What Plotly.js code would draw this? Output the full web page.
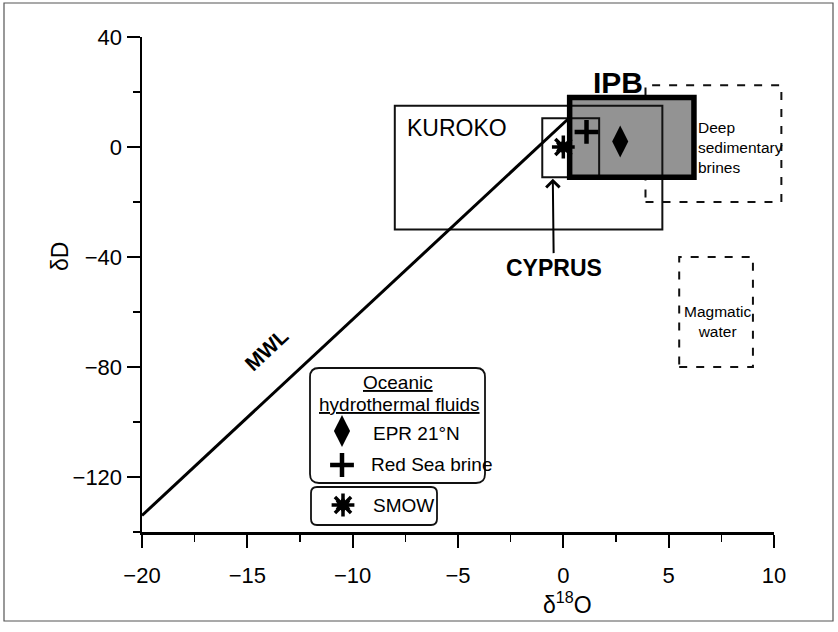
<!DOCTYPE html>
<html>
<head>
<meta charset="utf-8">
<script src="https://cdn.plot.ly/plotly-3.0.1.min.js"></script>
<style>html,body{margin:0;padding:0;background:#fff;}#chart{width:838px;height:632px;}</style>
</head>
<body>
<div id="chart"></div>
<script>
// ---------------- DATA ----------------
const xTickVals = [-20, -15, -10, -5, 0, 5, 10];
const yTickVals = [-120, -80, -40, 0, 40];
const xRange = [-20, 10];
const yRange = [-140, 40];

// Meteoric water line
const mwlX = [-20, 0.2];
const mwlY = [-134, 10];

// Field boxes (d18O, dD)
const boxNames = ['KUROKO', 'CYPRUS', 'IPB', 'Deep sedimentary brines', 'Magmatic water'];
const boxX0 = [-8, -1, 0.3, 3.9, 5.5];
const boxX1 = [4.7, 1.7, 6.2, 10.35, 9];
const boxY0 = [-30, -11, -11, -20, -80];
const boxY1 = [15, 10.5, 18, 22.5, -40];

// Point samples
const ptNames = ['EPR 21°N', 'Red Sea brine', 'SMOW'];
const ptX = [2.7, 1.1, 0];
const ptY = [2, 5.5, 0];

// ---------------- LAYOUT HELPERS ----------------
const W = 838, H = 632;
const M = {l: 142, r: 64, t: 37, b: 100};
const PW = W - M.l - M.r, PH = H - M.t - M.b;
const pX = px => (px - M.l) / PW;          // pixel -> paper
const pY = py => (H - M.b - py) / PH;
const dX = v => (v - xRange[0]) / (xRange[1] - xRange[0]); // data -> paper
const dY = v => (v - yRange[0]) / (yRange[1] - yRange[0]);
const FONT = 'Liberation Sans, Arial, Helvetica, sans-serif';

function roundRect(x0, y0, x1, y1, r) { // pixel coords -> paper path
  const rx = r / PW, ry = r / PH;
  const a = pX(x0), b = pX(x1), top = pY(y0), bot = pY(y1);
  return `M${a + rx},${top} L${b - rx},${top} Q${b},${top} ${b},${top - ry} ` +
         `L${b},${bot + ry} Q${b},${bot} ${b - rx},${bot} L${a + rx},${bot} ` +
         `Q${a},${bot} ${a},${bot + ry} L${a},${top - ry} Q${a},${top} ${a + rx},${top} Z`;
}

// marker styles per point (SMOW drawn as asterisk + small hexagram core)
const markerStyles = [
  [{symbol: 'diamond-tall', size: 23, line: 0}],
  [{symbol: 'cross-thin-open', size: 17, line: 4.5}],
  [{symbol: 'asterisk-open', size: 19, line: 3.5}, {symbol: 'hexagram', size: 13, line: 0}]
];

// ---------------- SHAPES ----------------
const shapes = [];
const ipb = 2, kur = 0, cyp = 1, deep = 3, mag = 4;
shapes.push({type: 'rect', layer: 'below', xref: 'x', yref: 'y',
  x0: boxX0[ipb], x1: boxX1[ipb], y0: boxY0[ipb], y1: boxY1[ipb],
  fillcolor: '#939393', line: {width: 0}});
[kur, cyp].forEach(i => shapes.push({type: 'rect', layer: 'below', xref: 'x', yref: 'y',
  x0: boxX0[i], x1: boxX1[i], y0: boxY0[i], y1: boxY1[i],
  fillcolor: 'rgba(0,0,0,0)', line: {color: '#111', width: 2}}));
[deep, mag].forEach(i => shapes.push({type: 'rect', layer: 'below', xref: 'paper', yref: 'paper',
  x0: dX(boxX0[i]), x1: dX(boxX1[i]), y0: dY(boxY0[i]), y1: dY(boxY1[i]),
  fillcolor: 'rgba(0,0,0,0)', line: {color: '#111', width: 2, dash: '8px,9px'}}));
shapes.push({type: 'rect', layer: 'below', xref: 'x', yref: 'y',
  x0: boxX0[ipb], x1: boxX1[ipb], y0: boxY0[ipb], y1: boxY1[ipb],
  fillcolor: 'rgba(0,0,0,0)', line: {color: '#000', width: 5.5}});
shapes.push({type: 'path', layer: 'below', xref: 'paper', yref: 'paper',
  path: roundRect(310, 368, 485, 483, 9), line: {color: '#111', width: 1.8}});
shapes.push({type: 'path', layer: 'below', xref: 'paper', yref: 'paper',
  path: roundRect(311, 487, 437, 525, 6), line: {color: '#111', width: 1.8}});
shapes.push({type: 'rect', layer: 'below', xref: 'paper', yref: 'paper',
  x0: pX(4), x1: pX(833), y0: pY(3), y1: pY(621),
  line: {color: '#555', width: 1.2}});

// ---------------- TRACES ----------------
const traces = [];
traces.push({x: mwlX, y: mwlY, mode: 'lines', line: {color: '#000', width: 3},
  hoverinfo: 'skip', showlegend: false, cliponaxis: false});
const legIconPx = [[342, 431], [342, 465], [343, 505]];
for (let i = 0; i < ptNames.length; i++) {
  markerStyles[i].forEach(st => {
    const mk = {symbol: st.symbol, size: st.size, color: '#000', line: {color: '#000', width: st.line}};
    traces.push({x: [ptX[i]], y: [ptY[i]], mode: 'markers', name: ptNames[i], showlegend: false,
      cliponaxis: false, marker: mk});
    traces.push({x: [pX(legIconPx[i][0])], y: [pY(legIconPx[i][1])], xaxis: 'x2', yaxis: 'y2',
      mode: 'markers', showlegend: false, hoverinfo: 'skip', cliponaxis: false, marker: mk});
  });
}

// ---------------- ANNOTATIONS ----------------
const ann = [];
const A = (o, size) => ann.push(Object.assign({showarrow: false, xanchor: 'center', yanchor: 'middle',
  font: {family: FONT, size: size || 19, color: '#000'}}, o));
A({xref: 'x', yref: 'y', x: -7.5, y: 7, xanchor: 'left', text: 'KUROKO'}, 23);
A({xref: 'x', yref: 'y', x: 2.6, y: 23.6, text: '<b>IPB</b>'}, 30);
ann.push({xref: 'x', yref: 'y', x: -0.5, y: -11.5, ax: 1, ay: 89, text: '<b>CYPRUS</b>',
  showarrow: true, arrowhead: 4, arrowsize: 1.3, arrowwidth: 2, arrowcolor: '#000',
  font: {family: FONT, size: 23, color: '#000'}});
A({xref: 'x', yref: 'y', x: -14.1, y: -73.5, text: '<b>MWL</b>', textangle: -43}, 21);
A({xref: 'x', yref: 'y', x: 6.3, y: -0.3, xanchor: 'left', align: 'left',
   text: 'Deep<br>sedimentary<br>brines'}, 15.5);
A({xref: 'x', yref: 'y', x: 7.3, y: -63.5, align: 'center', text: 'Magmatic<br>water'}, 15.5);
// legend texts
A({xref: 'paper', yref: 'paper', x: pX(398), y: pY(382), text: '<u>Oceanic</u>'}, 19);
A({xref: 'paper', yref: 'paper', x: pX(399), y: pY(404), text: '<u>hydrothermal fluids</u>'}, 19);
A({xref: 'paper', yref: 'paper', x: pX(371), y: pY(433), xanchor: 'left', text: ptNames[0]}, 19);
A({xref: 'paper', yref: 'paper', x: pX(369), y: pY(464), xanchor: 'left', text: ptNames[1]}, 19);
A({xref: 'paper', yref: 'paper', x: pX(371), y: pY(505), xanchor: 'left', text: ptNames[2]}, 19);
// axis titles
A({xref: 'x', yref: 'paper', x: 0.2, y: pY(603), text: 'δ<sup>18</sup>O'}, 23);
A({xref: 'paper', yref: 'y', x: pX(60), y: -40, text: 'δD', textangle: -90}, 23);

const axisCommon = {showgrid: false, zeroline: false, showline: true, linecolor: '#000', linewidth: 2.5,
  ticks: 'outside', ticklen: 13, tickwidth: 2, tickcolor: '#000',
  tickfont: {family: FONT, size: 22, color: '#000'}, fixedrange: true};

const layout = {
  width: W, height: H, margin: M, paper_bgcolor: '#fff', plot_bgcolor: '#fff', showlegend: false,
  xaxis: Object.assign({}, axisCommon, {range: xRange, tickvals: xTickVals, ticklabelstandoff: 9,
    minor: {dtick: 2.5, tick0: 0, ticks: 'outside', ticklen: 7, tickwidth: 1.5, tickcolor: '#000'}}),
  yaxis: Object.assign({}, axisCommon, {range: yRange, tickvals: yTickVals,
    minor: {dtick: 20, tick0: 0, ticks: 'outside', ticklen: 7, tickwidth: 1.5, tickcolor: '#000'}}),
  xaxis2: {overlaying: 'x', range: [0, 1], visible: false, fixedrange: true},
  yaxis2: {overlaying: 'y', range: [0, 1], visible: false, fixedrange: true},
  shapes: shapes, annotations: ann
};

Plotly.newPlot('chart', traces, layout, {displayModeBar: false, staticPlot: true});
</script>
</body>
</html>
